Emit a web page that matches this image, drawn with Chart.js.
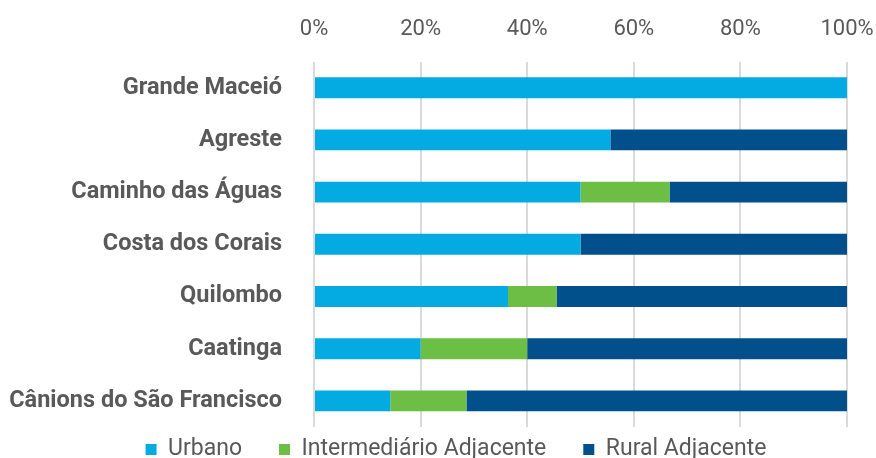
<!DOCTYPE html>
<html>
<head>
<meta charset="utf-8">
<script src="https://cdn.jsdelivr.net/npm/chart.js@4.4.1/dist/chart.umd.min.js"></script>
<style>
  html, body { margin: 0; padding: 0; background: #fff; }
  #wrap { width: 876px; height: 458px; }
</style>
</head>
<body>
<div id="wrap"><canvas id="c" width="876" height="458"></canvas></div>
<script>
var regioes = ["Grande Maceió", "Agreste", "Caminho das Águas", "Costa dos Corais", "Quilombo", "Caatinga", "Cânions do São Francisco"];
var urbano = [100, 55.6, 50, 50, 36.4, 20, 14.3];
var intermediario = [0, 0, 16.7, 0, 9.1, 20, 14.3];
var rural = [0, 44.4, 33.3, 50, 54.5, 60, 71.4];
var xTicks = [0, 20, 40, 60, 80, 100];

var cinza = "#595959";

// legend row: keep it low under the plot and a bit to the right, like the original
var legendPos = {
  id: "legendPos",
  afterLayout: function (chart) {
    var lg = chart.legend;
    if (!lg) return;
    var dx = 456 - (lg.left + lg.right) / 2;
    lg.left += dx; lg.right += dx;
    lg.top = 401;
    lg.bottom = 458;
    lg.height = lg.bottom - lg.top;
  }
};

new Chart(document.getElementById("c"), {
  type: "bar",
  data: {
    labels: regioes,
    datasets: [
      { label: "Urbano", data: urbano, backgroundColor: "#03ABE2" },
      { label: "Intermediário Adjacente", data: intermediario, backgroundColor: "#6DBE45" },
      { label: "Rural Adjacente", data: rural, backgroundColor: "#01508B" }
    ]
  },
  plugins: [legendPos],
  options: {
    indexAxis: "y",
    responsive: false,
    animation: false,
    layout: { padding: { top: -2, right: 29, left: 0, bottom: 0 } },
    datasets: { bar: { barPercentage: 0.4, categoryPercentage: 1 } },
    scales: {
      x: {
        position: "top",
        stacked: true,
        min: 0,
        max: 100,
        afterBuildTicks: function (axis) {
          axis.ticks = xTicks.map(function (v) { return { value: v }; });
        },
        afterFit: function (axis) { axis.paddingLeft = 0; axis.paddingRight = 0; },
        grid: { color: "#dadada", lineWidth: 2, drawTicks: false },
        border: { display: false },
        ticks: {
          padding: 18.6,
          color: cinza,
          font: { family: "Roboto", size: 22 },
          callback: function (v) { return v + "%"; }
        }
      },
      y: {
        stacked: true,
        grid: { display: false },
        border: { display: false },
        afterFit: function (axis) {
          axis.width = 314;
          axis.paddingTop = 0;
          axis.paddingBottom = 0;
        },
        ticks: {
          padding: 24,
          color: cinza,
          font: { family: "Roboto", size: 23.5, weight: "bold" }
        }
      }
    },
    plugins: {
      tooltip: { enabled: false },
      legend: {
        position: "bottom",
        maxHeight: 31,
        labels: {
          boxWidth: 11,
          boxHeight: 11,
          padding: 37,
          color: cinza,
          font: { family: "Roboto", size: 23 }
        }
      }
    }
  }
});
</script>
</body>
</html>
